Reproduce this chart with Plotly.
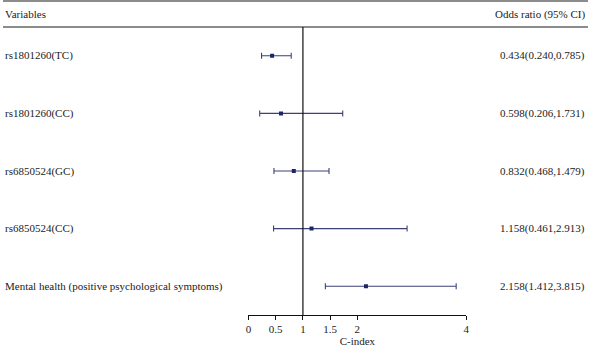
import plotly.graph_objects as go

variables = ["rs1801260(TC)", "rs1801260(CC)", "rs6850524(GC)", "rs6850524(CC)",
             "Mental health (positive psychological symptoms)"]
odds = [0.434, 0.598, 0.832, 1.158, 2.158]
ci_low = [0.240, 0.206, 0.468, 0.461, 1.412]
ci_high = [0.785, 1.731, 1.479, 2.913, 3.815]
or_labels = ["0.434(0.240,0.785)", "0.598(0.206,1.731)", "0.832(0.468,1.479)",
             "1.158(0.461,2.913)", "2.158(1.412,3.815)"]
x_ticks = [0, 0.5, 1, 1.5, 2, 4]
x_tick_text = ["0", "0.5", "1", "1.5", "2", "4"]

FONT = "Liberation Serif"
FS = 11
W, H = 591, 349
top_m, bot_m = 27, 34
plot_h = H - top_m - bot_m

fig = go.Figure()
fig.add_trace(go.Scatter(
    x=odds, y=variables, mode="markers",
    marker=dict(symbol="square", size=4, color="#1c2566"),
    error_x=dict(type="data", symmetric=False,
                 array=[h - o for h, o in zip(ci_high, odds)],
                 arrayminus=[o - l for o, l in zip(odds, ci_low)],
                 color="#3d4178", thickness=1.1, width=3),
    showlegend=False, hoverinfo="skip"))

tf = dict(family=FONT, size=FS, color="#222")
ann = []
for v, t in zip(variables, or_labels):
    ann.append(dict(x=0, xref="paper", y=v, yref="y", text=v, showarrow=False,
                    xanchor="left", xshift=0, font=tf))
    ann.append(dict(x=1, xref="paper", y=v, yref="y", text=t, showarrow=False,
                    xanchor="right", xshift=-1, font=tf))
hdr_y = 1 + 13 / plot_h
ann.append(dict(x=0, xref="paper", y=hdr_y, yref="paper", text="Variables", showarrow=False,
                xanchor="left", xshift=0, yanchor="middle", font=tf))
ann.append(dict(x=1, xref="paper", y=hdr_y, yref="paper", text="Odds ratio (95% CI)", showarrow=False,
                xanchor="right", xshift=-1, yanchor="middle", font=tf))

shapes = [
    dict(type="line", xref="paper", yref="paper", x0=0, x1=1, y0=1 + 26 / plot_h, y1=1 + 26 / plot_h,
         line=dict(color="#666", width=1.5)),
    dict(type="line", xref="paper", yref="paper", x0=0, x1=1, y0=1, y1=1,
         line=dict(color="#666", width=1.5)),
    dict(type="line", xref="x", yref="paper", x0=1, x1=1, y0=0, y1=1,
         line=dict(color="#111", width=1.2)),
]

fig.update_layout(
    width=W, height=H, margin=dict(l=0, r=0, t=top_m, b=bot_m),
    paper_bgcolor="white", plot_bgcolor="white",
    font=tf,
    xaxis=dict(domain=[248 / W, 468 / W], range=[0, 4], tickvals=x_ticks, ticktext=x_tick_text,
               showgrid=False, zeroline=False, showline=True, linecolor="#111", linewidth=1.2,
               ticks="outside", ticklen=4, tickcolor="#111", tickwidth=1.2,
               tickfont=tf,
               title=dict(text="C-index", standoff=3, font=tf)),
    yaxis=dict(categoryorder="array", categoryarray=variables, range=[4.5, -0.5],
               showticklabels=False, showgrid=False, zeroline=False, showline=False, ticks=""),
    annotations=ann, shapes=shapes,
)
fig.write_html("out.html", config={"displayModeBar": False},
               post_script="document.body.style.margin='0';document.body.style.overflow='hidden';")
